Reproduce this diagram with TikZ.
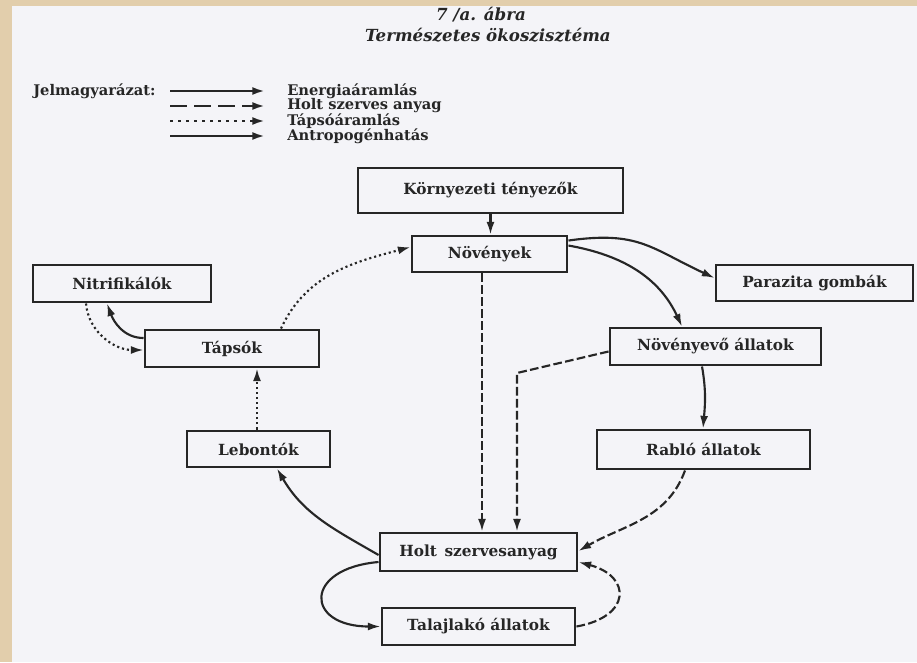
\documentclass[tikz,border=0pt]{standalone}
\usepackage{fontspec}
\setmainfont{DejaVu Serif}
\newfontfamily\cimfont{DejaVu Serif}
\usetikzlibrary{calc,arrows.meta}
\definecolor{papir}{RGB}{244,244,248}
\definecolor{keret}{RGB}{226,206,172}
\definecolor{tinta}{RGB}{38,38,38}

\tikzset{
  doboz/.style 2 args={draw=tinta, line width=2.2pt, minimum width=#1*0.75pt,
    minimum height=#2*0.75pt, inner sep=0pt, text=tinta,
    font=\bfseries\fontsize{11.5}{13}\selectfont},
  nyil/.style={draw=tinta, line width=1.6pt, -{Latex[length=9.5pt,width=6pt]}},
  energia/.style={nyil},
  szerves/.style={nyil, dash pattern=on 6.5pt off 2.5pt},
  tapso/.style={nyil, dash pattern=on 1.6pt off 2.2pt},
  felirat/.style={text=tinta, anchor=west, inner sep=0pt,
    font=\bfseries\fontsize{11}{13}\selectfont},
  cim/.style={text=tinta, inner sep=0pt, font=\cimfont\bfseries\itshape\fontsize{12.5}{14}\selectfont}
}

\begin{document}
\begin{tikzpicture}[x=0.75pt,y=0.75pt]
	%%%%% lap %%%%%
	\fill[keret] (0,0) rectangle (917,662);
	\fill[papir] (12,0) rectangle (917,656);
	\useasboundingbox (0,0) rectangle (917,662);
	
	%%%%% cim %%%%%
	\node[cim] (abra) at (481,647) {7 /a. ábra};
	\node[cim] (cimsor) at (488,627) {Természetes ökoszisztéma};
	
	%%%%% jelmagyarazat %%%%%
	\node[felirat] (jelm) at (33,571) {Jelmagyarázat:};
	\node[felirat] (l1) at (287,571) {Energiaáramlás};
	\node[felirat] (l2) at (287,556) {Holt szerves anyag};
	\node[felirat] (l3) at (287,541) {Tápsóáramlás};
	\node[felirat] (l4) at (287,526) {Antropogénhatás};
	
	\draw[energia, line width=2pt] ($(l1.west)+(-117,0)$) -- ($(l1.west)+(-22,0)$);
	\draw[szerves, line width=2pt, dash pattern=on 13pt off 5pt] ($(l2.west)+(-117,0)$) -- ($(l2.west)+(-22,0)$);
	\draw[tapso, line width=2pt, dash pattern=on 2pt off 4pt] ($(l3.west)+(-117,0)$) -- ($(l3.west)+(-22,0)$);
	\draw[energia, line width=2pt] ($(l4.west)+(-117,0)$) -- ($(l4.west)+(-22,0)$);
	
	%%%%% dobozok %%%%%
	\node[doboz={265}{45}] (kornyezet) at (490.5,471.5) {Környezeti tényezők};
	\node[doboz={155}{36}] (novenyek) at (489.5,408) {Növények};
	\node[doboz={197}{36}] (parazita) at (814.5,379) {Parazita gombák};
	\node[doboz={178}{37}] (nitrif) at (122,378.5) {Nitrifikálók};
	\node[doboz={174}{37}] (tapsok) at (232,313.5) {Tápsók};
	\node[doboz={211}{37}] (novenyevo) at (715.5,315.5) {Növényevő állatok};
	\node[doboz={143}{36}] (lebontok) at (258.5,213) {Lebontók};
	\node[doboz={213}{39}] (rablo) at (703.5,212.5) {Rabló állatok};
	\node[doboz={197}{38}] (holt) at (478.5,110) {Holt\enspace szervesanyag};
	\node[doboz={193}{37}] (talaj) at (478.5,35.5) {Talajlakó állatok};
	
	\coordinate (sarok) at (517,289);
	
	%%%%% nyilak %%%%%
	\draw[energia] (kornyezet.south) -- (kornyezet.south |- novenyek.north);
	\draw[energia] ($(novenyek.north east)+(0,-6)$) to[out=8,in=155,looseness=1.2] ($(parazita.west)+(0,5)$);
	\draw[energia] ($(novenyek.north east)+(0,-11)$) to[out=-10,in=115] ($(novenyevo.north)+(-33.5,0)$);
	\draw[energia] ($(novenyevo.south)+(-13.5,0)$) to[out=-80,in=85] ($(rablo.north)+(-0.5,0)$);
	
	\draw[szerves] ($(novenyek.south)+(-7.5,0)$) -- ($(holt.north)+(3.5,0)$);
	\draw[szerves] ($(novenyevo.west)+(0,-5)$) -- (sarok) -- (sarok |- holt.north);
	\draw[szerves] ($(rablo.south)+(-18.5,0)$) to[out=-110,in=30] ($(holt.east)+(0,1)$);
	\draw[szerves] (talaj.east) to[out=10,in=-15,looseness=2.2] ($(holt.east)+(0,-10)$);
	
	\draw[energia] ($(holt.west)+(0,-10)$) to[out=185,in=180,looseness=3] (talaj.west);
	\draw[energia] ($(holt.west)+(0,-3)$) to[out=150,in=-60] ($(lebontok.south)+(18.5,0)$);
	
	\draw[tapso] ($(lebontok.north)+(-1.5,0)$) -- ($(tapsok.south)+(25,0)$);
	\draw[tapso] ($(tapsok.north)+(49,0)$) to[out=65,in=195] ($(novenyek.west)+(0,7)$);
	\draw[tapso] ($(nitrif.south)+(-36,0)$) to[out=-85,in=180] ($(tapsok.west)+(0,-1.5)$);
	\draw[energia] ($(tapsok.west)+(0,10.5)$) to[out=180,in=-70] ($(nitrif.south)+(-15,0)$);
\end{tikzpicture}
\end{document}
